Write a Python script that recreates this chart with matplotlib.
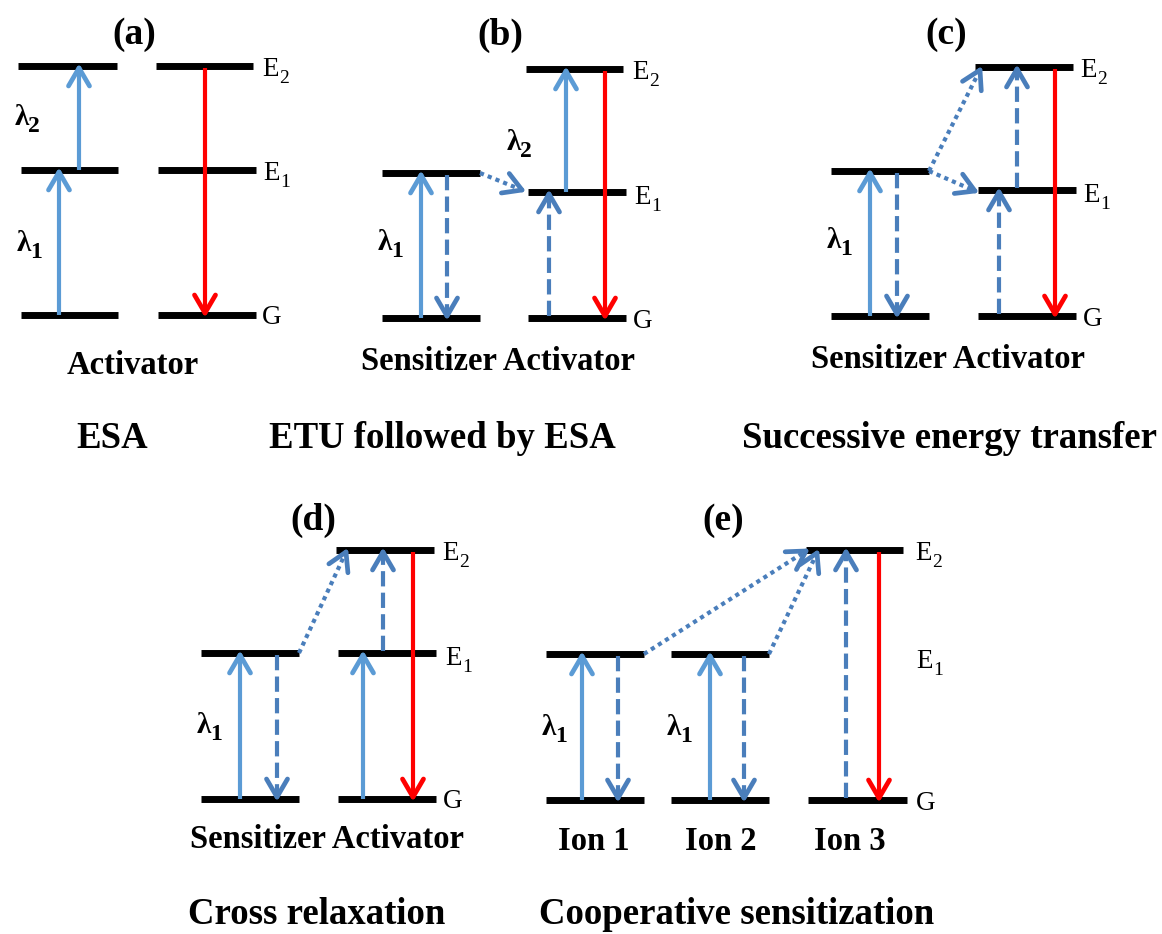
import numpy as np
import matplotlib
matplotlib.use("Agg")
import matplotlib.pyplot as plt

plt.rcParams['font.family'] = ['Liberation Serif', 'DejaVu Serif']
plt.rcParams['lines.scale_dashes'] = False

# energy levels, pixel coords of the picture: (x start, x end, y)
levels = [
    (18, 117, 66), (21, 118, 170), (21, 118, 315),
    (156, 253, 66), (158, 256, 170), (158, 256, 315),
    (382, 480, 173), (382, 480, 318),
    (526, 623, 69), (528, 626, 192), (528, 626, 318),
    (831, 929, 171), (831, 929, 316),
    (975, 1073, 67), (978, 1076, 190), (978, 1076, 316),
    (201, 299, 653), (201, 299, 799),
    (336, 434, 550), (338, 436, 653), (338, 436, 799),
    (546, 644, 654), (546, 644, 800),
    (671, 769, 654), (671, 769, 800),
    (806, 903, 550), (808, 907, 800),
]

# transitions (x0, y0, x1, y1), arrow tip at the end
pump = [
    (59, 315, 59, 172), (79, 170, 79, 68),
    (421, 318, 421, 175), (566, 192, 566, 71),
    (870, 316, 870, 173),
    (240, 799, 240, 655), (363, 799, 363, 655),
    (582, 800, 582, 656), (710, 800, 710, 656),
]
emission = [
    (205, 68, 205, 313), (605, 71, 605, 316), (1055, 69, 1055, 314),
    (413, 552, 413, 797), (879, 552, 879, 798),
]
relax = [
    (447, 175, 447, 316), (549, 316, 549, 194),
    (897, 173, 897, 314), (999, 314, 999, 192), (1017, 188, 1017, 69),
    (277, 655, 277, 797), (383, 651, 383, 552),
    (618, 656, 618, 798), (744, 656, 744, 798), (846, 798, 846, 552),
]
transfer = [
    (480, 173, 522, 190),
    (929, 171, 980, 70), (929, 171, 975, 191),
    (299, 653, 346, 552),
    (644, 654, 806, 551), (769, 654, 817, 553),
]

# level labels: (x, baseline y, letter, subscript)
level_labels = [
    (262, 76, 'E', '2'), (263, 180, 'E', '1'), (262, 324, 'G', ''),
    (632, 79, 'E', '2'), (634, 204, 'E', '1'), (633, 328, 'G', ''),
    (1080, 77, 'E', '2'), (1083, 202, 'E', '1'), (1083, 326, 'G', ''),
    (442, 560, 'E', '2'), (445, 665, 'E', '1'), (443, 808, 'G', ''),
    (915, 560, 'E', '2'), (916, 668, 'E', '1'), (916, 810, 'G', ''),
]
lambda_labels = [
    (15, 125, '2'), (17, 251, '1'),
    (507, 150, '2'), (378, 250, '1'),
    (827, 248, '1'),
    (197, 733, '1'),
    (542, 735, '1'), (667, 735, '1'),
]
panel_tags = [(134, 35, '(a)'), (500, 35, '(b)'), (946, 35, '(c)'),
              (313, 520, '(d)'), (723, 520, '(e)')]
ion_names = [(133, 365, 'Activator'), (498, 362, 'Sensitizer Activator'),
             (948, 360, 'Sensitizer Activator'), (327, 840, 'Sensitizer Activator'),
             (594, 842, 'Ion 1'), (721, 842, 'Ion 2'), (850, 842, 'Ion 3')]
processes = [(112, 438, 'ESA'), (442, 438, 'ETU followed by ESA'),
             (950, 438, 'Successive energy transfer'),
             (317, 915, 'Cross relaxation'), (737, 915, 'Cooperative sensitization')]

BLUE = '#5B9BD5'
DBLUE = '#4A7EBB'
RED = '#FF0000'


def arrow(ax, x0, y0, x1, y1, color, dashes=None):
    d = np.array([x1 - x0, y1 - y0], float)
    d /= np.hypot(*d)
    n = np.array([-d[1], d[0]])
    tip = np.array([x1, y1])
    kw = dict(color=color, lw=3, solid_capstyle='butt')
    if dashes is None:
        ax.plot([x0, x1], [y0, y1], **kw)
    else:
        ax.plot([x0, x1], [y0, y1], dashes=dashes, dash_capstyle='butt', **kw)
    for s in (1, -1):
        p = tip - 18 * d + s * 10.5 * n
        ax.plot([p[0], tip[0]], [p[1], tip[1]], color=color, lw=3.4,
                solid_capstyle='round')


fig = plt.figure(figsize=(11.62, 9.34), dpi=100)
ax = fig.add_axes([0, 0, 1, 1])
ax.set_xlim(0, 1162)
ax.set_ylim(934, 0)
ax.axis('off')

for x0, x1, y in levels:
    ax.plot([x0, x1], [y, y], color='black', lw=5, solid_capstyle='butt')

for a in pump:
    arrow(ax, *a, BLUE)
for a in emission:
    arrow(ax, *a, RED)
for a in relax:
    arrow(ax, *a, DBLUE, dashes=(11, 4.5))
for a in transfer:
    arrow(ax, *a, DBLUE, dashes=(3, 3))

for x, y, s, sub in level_labels:
    ax.text(x, y, s, fontsize=19.5, ha='left', va='baseline')
    if sub:
        ax.text(x + 17, y + 7, sub, fontsize=14, ha='left', va='baseline')
for x, y, sub in lambda_labels:
    ax.text(x, y, '\u03bb', fontsize=21, fontweight='bold', ha='left', va='baseline')
    ax.text(x + 13, y + 7, sub, fontsize=17, fontweight='bold', ha='left', va='baseline')
for x, y, s in panel_tags:
    ax.text(x, y, s, fontsize=27, fontweight='bold', ha='center', va='center')
for x, y, s in ion_names:
    ax.text(x, y, s, fontsize=23.5, fontweight='bold', ha='center', va='center')
for x, y, s in processes:
    ax.text(x, y, s, fontsize=26.5, fontweight='bold', ha='center', va='center')

fig.savefig('out.png', dpi=100)
